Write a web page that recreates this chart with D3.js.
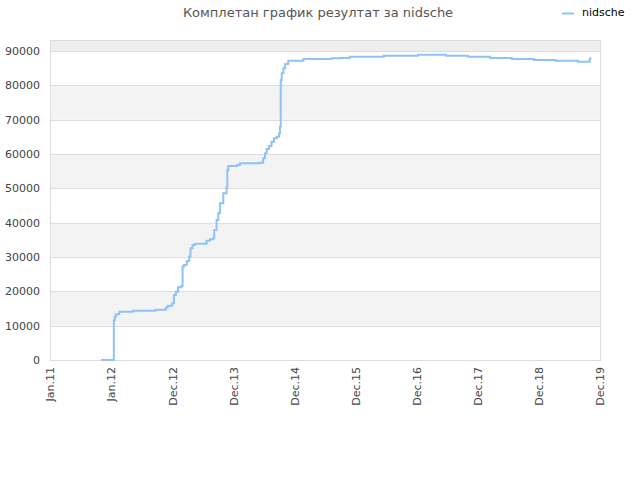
<!DOCTYPE html>
<html>
<head>
<meta charset="utf-8">
<script src="https://cdn.jsdelivr.net/npm/d3@7"></script>
<style>
  body { margin: 0; background: #fff; }
  svg { font-family: "DejaVu Sans", sans-serif; }
</style>
</head>
<body>
<svg id="chart" width="640" height="480"></svg>
<script>
// chart data
const title = "Комплетан график резултат за nidsche";
const seriesName = "nidsche";

const tickLabels = ["Jan.11", "Jan.12", "Dec.12", "Dec.13", "Dec.14", "Dec.15", "Dec.16", "Dec.17", "Dec.18", "Dec.19"];
const tickDates = ["2011-01-01", "2012-01-01", "2012-12-01", "2013-12-01", "2014-12-01", "2015-12-01", "2016-12-01", "2017-12-01", "2018-12-01", "2019-12-01"];

const dates = [
  "2011-11-01", "2012-01-11", "2012-01-16", "2012-01-21", "2012-01-27", "2012-02-13", "2012-02-18",
  "2012-04-23", "2012-04-28", "2012-08-28", "2012-08-31", "2012-10-16", "2012-10-27", "2012-11-06",
  "2012-11-29", "2012-12-01", "2012-12-11", "2012-12-23", "2013-01-05", "2013-01-25", "2013-01-31",
  "2013-02-01", "2013-02-10", "2013-02-26", "2013-03-12", "2013-03-20", "2013-04-01", "2013-04-15",
  "2013-06-04", "2013-06-24", "2013-07-14", "2013-08-03", "2013-08-09", "2013-08-23", "2013-09-02",
  "2013-09-12", "2013-10-02", "2013-10-22", "2013-10-26", "2013-11-01", "2013-12-21", "2014-01-10",
  "2014-05-08", "2014-05-14", "2014-05-28", "2014-06-08", "2014-06-18", "2014-07-03", "2014-07-17",
  "2014-08-01", "2014-08-17", "2014-08-31", "2014-09-06", "2014-09-10", "2014-09-16", "2014-09-26",
  "2014-10-06", "2014-10-25", "2014-12-15", "2015-01-24", "2015-07-11", "2015-08-30", "2015-10-28",
  "2016-05-18", "2016-12-09", "2017-05-24", "2017-10-03", "2018-02-12", "2018-06-22", "2018-11-01",
  "2019-03-11", "2019-07-21", "2019-09-20", "2019-10-01", "2019-10-04"
];
const values = [
  0, 0, 11600, 12600, 13300, 13900, 14070,
  14070, 14360, 14360, 14650, 14650, 15230, 15810,
  15810, 16500, 18930, 19900, 21170, 21550, 21550,
  27200, 27670, 28840, 30100, 32530, 33500, 33880,
  33880, 34760, 35150, 35440, 37860, 40780, 42720,
  45640, 48550, 50490, 55340, 56510, 56800, 57280,
  57480, 57480, 58740, 60200, 61460, 62330, 63590,
  64560, 65050, 66020, 67960, 81560, 83500, 84950,
  86200, 87180, 87180, 87670, 87860, 87960, 88340,
  88640, 88930, 88640, 88340, 87960, 87670, 87380,
  87180, 86890, 86890, 87700, 88170
];

const yTicks = [0, 10000, 20000, 30000, 40000, 50000, 60000, 70000, 80000, 90000];

const margin = { top: 40, right: 40, bottom: 120, left: 50 };
const width = 640, height = 480;
const w = width - margin.left - margin.right;
const h = height - margin.top - margin.bottom;

const parse = d3.timeParse("%Y-%m-%d");
const data = dates.map((d, i) => ({ date: parse(d), value: values[i] }));

// labels sit evenly spaced, so map each label date to an even step
const x = d3.scaleTime()
  .domain(tickDates.map(parse))
  .range(tickDates.map((d, i) => i * w / (tickDates.length - 1)));

// 90000 sits a little below the top edge
const y = d3.scaleLinear().domain([0, 90000]).range([h, h - 309]);

const svg = d3.select("#chart");
const g = svg.append("g").attr("transform", `translate(${margin.left},${margin.top})`);

// alternating bands
const bands = yTicks.map((t, i) => [t, i < yTicks.length - 1 ? yTicks[i + 1] : null]);
g.selectAll("rect.band")
  .data(bands)
  .enter()
  .append("rect")
  .attr("class", "band")
  .attr("x", 0)
  .attr("width", w)
  .attr("y", d => d[1] === null ? 0 : y(d[1]))
  .attr("height", d => d[1] === null ? y(d[0]) : y(d[0]) - y(d[1]))
  .attr("fill", (d, i) => d[1] === null ? "#eeeeee" : (i % 2 ? "#f3f3f3" : "#ffffff"));

// grid lines
g.selectAll("line.grid")
  .data(yTicks)
  .enter()
  .append("line")
  .attr("x1", 0)
  .attr("x2", w)
  .attr("y1", d => Math.round(y(d)) + 0.5)
  .attr("y2", d => Math.round(y(d)) + 0.5)
  .attr("stroke", "#dddddd");

// frame
g.append("rect")
  .attr("x", 0.5).attr("y", 0.5)
  .attr("width", w).attr("height", h)
  .attr("fill", "none")
  .attr("stroke", "#dddddd");

// y axis
const yAxis = g.append("g")
  .call(d3.axisLeft(y).tickValues(yTicks).tickSize(0).tickPadding(10).tickFormat(d3.format("d")));
yAxis.select(".domain").remove();
yAxis.selectAll("text")
  .attr("fill", "#444")
  .style("font-size", "11px")
  .style("font-family", "DejaVu Sans");

// x axis
const xAxis = g.append("g")
  .attr("transform", `translate(0,${h})`)
  .call(d3.axisBottom(x).tickValues(tickDates.map(parse)).tickSize(0)
    .tickFormat((d, i) => tickLabels[i]));
xAxis.select(".domain").remove();
xAxis.selectAll("text")
  .attr("fill", "#444")
  .style("font-size", "11px")
  .style("font-family", "DejaVu Sans")
  .attr("text-anchor", "end")
  .attr("transform", "rotate(-90)")
  .attr("x", -7)
  .attr("y", 0)
  .attr("dy", "0.35em");

// the series line, drawn as steps like the original
const line = d3.line()
  .curve(d3.curveStepAfter)
  .x(d => x(d.date))
  .y(d => y(d.value));

g.append("path")
  .datum(data)
  .attr("fill", "none")
  .attr("stroke", "#8fc2f5")
  .attr("stroke-width", 2)
  .attr("d", line);

// title
svg.append("text")
  .attr("x", 318)
  .attr("y", 17)
  .attr("text-anchor", "middle")
  .attr("fill", "#555")
  .style("font-size", "13px")
  .text(title);

// legend
svg.append("line")
  .attr("x1", 562).attr("x2", 574)
  .attr("y1", 13.5).attr("y2", 13.5)
  .attr("stroke", "#8fc2f5")
  .attr("stroke-width", 2);
svg.append("text")
  .attr("x", 582)
  .attr("y", 16)
  .attr("fill", "#000")
  .style("font-size", "11px")
  .text(seriesName);
</script>
</body>
</html>
